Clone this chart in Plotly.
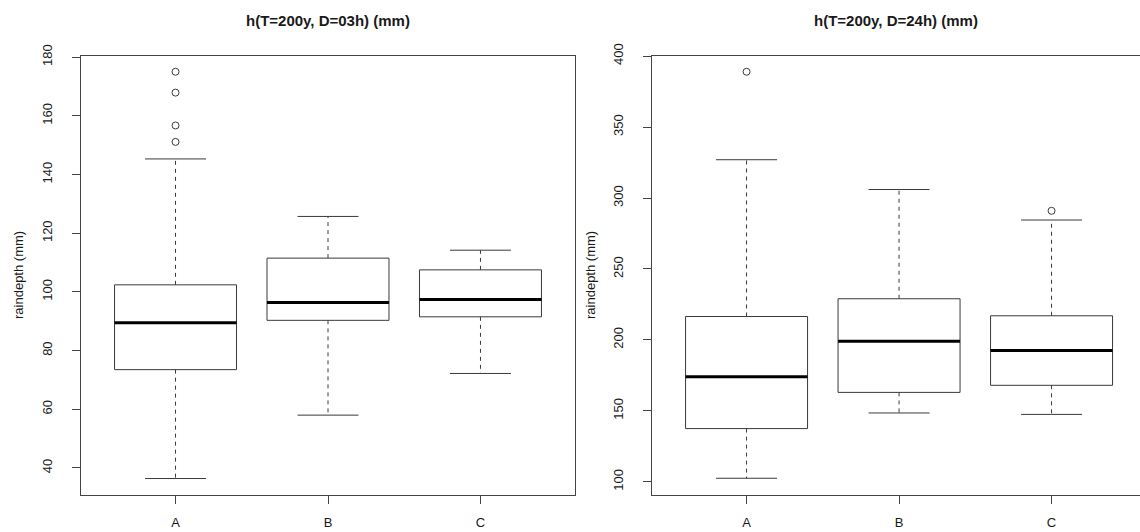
import plotly.graph_objects as go

# ---------------- data ----------------
categories = ["A", "B", "C"]

# Panel 1: h(T=200y, D=03h)
low_03 = [36.4, 58.0, 72.2]
q1_03 = [73.5, 90.3, 91.5]
med_03 = [89.5, 96.4, 97.4]
q3_03 = [102.4, 111.5, 107.5]
high_03 = [145.3, 125.7, 114.2]
out_cat_03 = ["A", "A", "A", "A"]
out_val_03 = [175.0, 167.9, 156.7, 151.1]

# Panel 2: h(T=200y, D=24h)
low_24 = [102.5, 148.5, 147.5]
q1_24 = [137.5, 163.0, 168.0]
med_24 = [174.0, 199.0, 192.5]
q3_24 = [216.5, 229.0, 217.0]
high_24 = [327.0, 306.0, 284.5]
out_cat_24 = ["A", "C"]
out_val_24 = [389.0, 291.0]

titles = ["h(T=200y, D=03h) (mm)", "h(T=200y, D=24h) (mm)"]
ytitle = "raindepth (mm)"
yticks_03 = [40, 60, 80, 100, 120, 140, 160, 180]
yticks_24 = [100, 150, 200, 250, 300, 350, 400]

# ---------------- style ----------------
FONT = "Liberation Sans, Arial, Helvetica, sans-serif"
LINE = "#3a3a3a"
FRAME = "#444444"
TXT = "#1a1a1a"
BOXW = 0.4     # half width of box
STAPW = 0.2    # half width of staple

W, H = 1140, 532
fig = go.Figure()


def add_panel(xa, ya, low, q1, med, q3, high, ocat, oval):
    pos = [i + 1 for i in range(len(categories))]
    bx, by, wx, wy, sx, sy, mx, my = [], [], [], [], [], [], [], []
    for p, lo, a, m, b, hi in zip(pos, low, q1, med, q3, high):
        bx += [p - BOXW, p + BOXW, p + BOXW, p - BOXW, p - BOXW, None]
        by += [a, a, b, b, a, None]
        wx += [p, p, None, p, p, None]
        wy += [b, hi, None, a, lo, None]
        sx += [p - STAPW, p + STAPW, None, p - STAPW, p + STAPW, None]
        sy += [hi, hi, None, lo, lo, None]
        mx += [p - BOXW, p + BOXW, None]
        my += [m, m, None]
    common = dict(xaxis=xa, yaxis=ya, mode="lines", showlegend=False, hoverinfo="skip")
    fig.add_trace(go.Scatter(x=wx, y=wy, line=dict(color=LINE, width=1, dash="4px,4px"), **common))
    fig.add_trace(go.Scatter(x=sx, y=sy, line=dict(color=LINE, width=1), **common))
    fig.add_trace(go.Scatter(x=bx, y=by, line=dict(color=LINE, width=1), **common))
    fig.add_trace(go.Scatter(x=mx, y=my, line=dict(color="#000000", width=3), **common))
    ox = [categories.index(c) + 1 for c in ocat]
    fig.add_trace(go.Scatter(x=ox, y=oval, xaxis=xa, yaxis=ya, mode="markers", showlegend=False,
                             marker=dict(symbol="circle-open", size=7, color=LINE, line=dict(width=1))))


add_panel("x", "y", low_03, q1_03, med_03, q3_03, high_03, out_cat_03, out_val_03)
add_panel("x2", "y2", low_24, q1_24, med_24, q3_24, high_24, out_cat_24, out_val_24)

top_px, bot_px = 55.5, 494.5
ydom = [1 - bot_px / H, 1 - top_px / H]

xcommon = dict(tickvals=[1, 2, 3], ticktext=categories, showgrid=False, zeroline=False,
               showline=True, mirror=True, linecolor=FRAME, linewidth=1, automargin=False,
               ticks="outside", ticklen=8, tickcolor=FRAME, tickwidth=1,
               tickfont=dict(family=FONT, size=13, color=TXT), ticklabelstandoff=8)
ycommon = dict(showgrid=False, zeroline=False, showline=True, linecolor=FRAME, linewidth=1,
               automargin=False,
               ticks="outside", ticklen=8, tickcolor=FRAME, tickwidth=1, tickangle=-90,
               tickfont=dict(family=FONT, size=13, color=TXT), ticklabelstandoff=15)

fig.update_layout(
    width=W, height=H,
    margin=dict(l=0, r=0, t=0, b=0, pad=0, autoexpand=False),
    paper_bgcolor="white", plot_bgcolor="white",
    xaxis=dict(domain=[81 / W, 575 / W], range=[0.38, 3.62], anchor="y", **xcommon),
    yaxis=dict(domain=ydom, range=[30.96, 180.54], tickvals=yticks_03, mirror=True, anchor="x", **ycommon),
    xaxis2=dict(domain=[652 / W, 1.0], range=[0.38, 3.58], anchor="y2", **xcommon),
    yaxis2=dict(domain=ydom, range=[91.04, 400.46], tickvals=yticks_24, mirror=False, anchor="x2", **ycommon),
)

ann = []
for cx, t in zip([328, 896], titles):
    ann.append(dict(text="<b>" + t + "</b>", x=cx / W, y=1 - 20 / H, xref="paper", yref="paper",
                    xanchor="center", yanchor="middle", showarrow=False,
                    font=dict(family=FONT, size=15, color=TXT)))
for cx in [18, 590]:
    ann.append(dict(text=ytitle, x=cx / W, y=1 - 275 / H, xref="paper", yref="paper",
                    xanchor="center", yanchor="middle", showarrow=False, textangle=-90,
                    font=dict(family=FONT, size=13, color=TXT)))
fig.update_layout(annotations=ann)

fig.write_html(
    "out.html",
    config={"displayModeBar": False},
    post_script="document.body.style.margin='0';document.body.style.padding='0';"
                "document.documentElement.style.overflow='hidden';document.body.style.overflow='hidden';",
)
